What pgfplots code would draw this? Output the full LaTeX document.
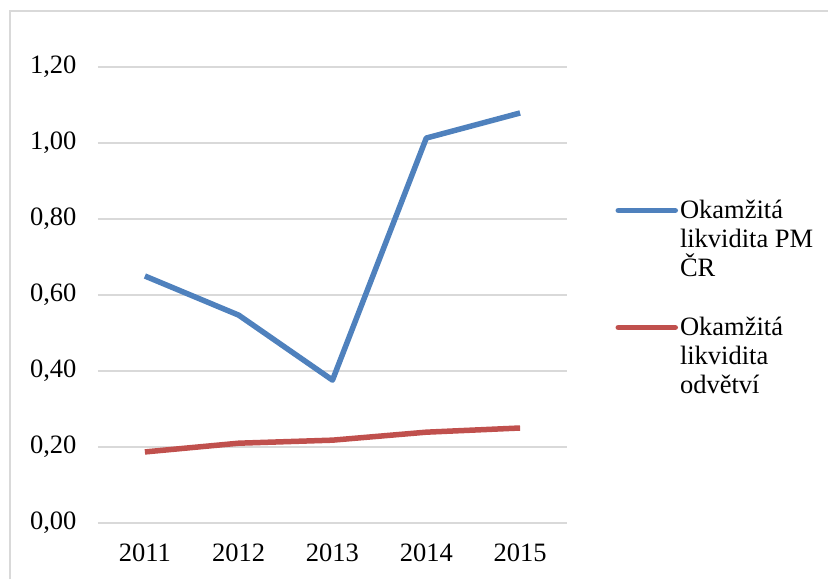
\documentclass[border=0pt]{standalone}
\usepackage{pgfplots}
\pgfplotsset{compat=1.18}
\usepackage{fontspec}
\setmainfont{Liberation Serif}
\definecolor{exblue}{HTML}{4F81BD}
\definecolor{exred}{HTML}{C0504D}
\definecolor{gridgray}{HTML}{D9D9D9}
\begin{document}
\begin{tikzpicture}
\useasboundingbox (0,0) rectangle (828pt,579pt);
\draw[gridgray, line width=1.5pt] (10pt,0pt) -- (10pt,568pt) -- (828pt,568pt);
\begin{axis}[
  at={(98pt,56pt)}, anchor=south west,
  scale only axis, width=469pt, height=456pt,
  xmin=-0.5, xmax=4.5, ymin=0, ymax=1.2,
  xtick=data, xticklabels={2011,2012,2013,2014,2015},
  ytick={0,0.2,0.4,0.6,0.8,1.0,1.2},
  ymajorgrids, grid style={gridgray, line width=1.3pt},
  axis lines*=left,
  axis line style={draw=none},
  major tick length=0pt,
  tick label style={font=\fontsize{26.5}{30}\selectfont},
  /pgf/number format/fixed, /pgf/number format/fixed zerofill,
  /pgf/number format/precision=2, /pgf/number format/use comma,
  /pgf/number format/assume math mode=true,
  yticklabel style={xshift=-18pt},
  xticklabel style={yshift=-17pt},
  legend style={draw=none, fill=none, at={(1.103,0.712)}, anchor=north west,
    font=\fontsize{26.5}{29}\selectfont, row sep=35pt,
    cells={align=left}, inner sep=0pt},
  legend cell align=left,
  legend image code/.code={\draw[#1, line cap=round] (0pt,29pt) -- (57pt,29pt);},
]
\addplot[exblue, line width=5.5pt, line join=round] coordinates {(0,0.65) (1,0.547) (2,0.376) (3,1.013) (4,1.079)};
\addlegendentry{Okamžitá\\likvidita PM\\ČR}
\addplot[exred, line width=5.5pt, line join=round] coordinates {(0,0.187) (1,0.21) (2,0.218) (3,0.239) (4,0.25)};
\addlegendentry{Okamžitá\\likvidita\\odvětví}
\end{axis}
\end{tikzpicture}
\end{document}
